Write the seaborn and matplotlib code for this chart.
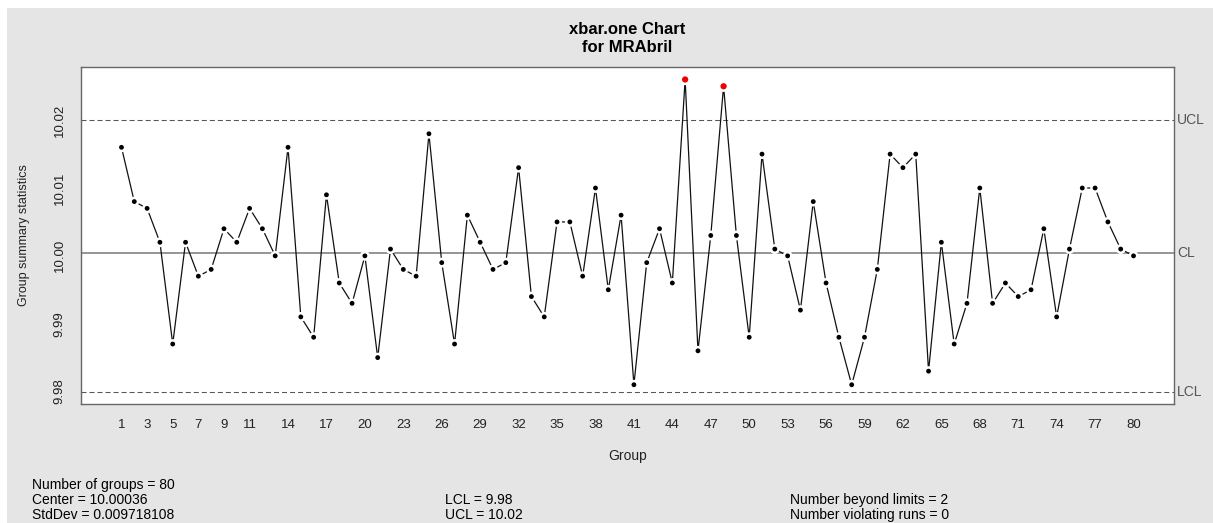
import matplotlib
matplotlib.use("Agg")
import numpy as np
import pandas as pd
import matplotlib.pyplot as plt
import seaborn as sns
from matplotlib.patches import Rectangle

# Individual measurements (one value per group)
groups = list(range(1, 81))
values = [
    10.016, 10.008, 10.007, 10.002, 9.987, 10.002, 9.997, 9.998, 10.004, 10.002,
    10.007, 10.004, 10.000, 10.016, 9.991, 9.988, 10.009, 9.996, 9.993, 10.000,
    9.985, 10.001, 9.998, 9.997, 10.018, 9.999, 9.987, 10.006, 10.002, 9.998,
    9.999, 10.013, 9.994, 9.991, 10.005, 10.005, 9.997, 10.010, 9.995, 10.006,
    9.981, 9.999, 10.004, 9.996, 10.026, 9.986, 10.003, 10.025, 10.003, 9.988,
    10.015, 10.001, 10.000, 9.992, 10.008, 9.996, 9.988, 9.981, 9.988, 9.998,
    10.015, 10.013, 10.015, 9.983, 10.002, 9.987, 9.993, 10.010, 9.993, 9.996,
    9.994, 9.995, 10.004, 9.991, 10.001, 10.010, 10.010, 10.005, 10.001, 10.000,
]

# Control chart statistics
center = 10.00036
std_dev = 0.009718108
lcl = 9.98
ucl = 10.02
n_beyond = 2
n_runs = 0

y_ticks = [9.98, 9.99, 10.00, 10.01, 10.02]
x_tick_labels = [1, 3, 5, 7, 9, 11] + list(range(14, 81, 3))

df = pd.DataFrame({"group": groups, "value": values})
df["status"] = np.where((df["value"] > ucl) | (df["value"] < lcl), "out", "in")

sns.set_theme(style="white")
plt.rcParams["font.family"] = ["Liberation Sans", "DejaVu Sans"]

W, H = 1213, 523
fig = plt.figure(figsize=(W / 100, H / 100), dpi=100)
fig.patch.set_facecolor("white")
fig.add_artist(Rectangle((7 / W, 0), 1 - 7 / W, 1 - 8 / H, transform=fig.transFigure,
                         facecolor="#e5e5e5", edgecolor="none", zorder=-1))

ax = fig.add_axes([81 / W, 1 - 404 / H, (1174 - 81) / W, (404 - 67) / H])
ax.set_facecolor("white")

# control limits and center line
ax.axhline(center, color="#8c8c8c", lw=1.3, zorder=1)
for lim in (ucl, lcl):
    ax.axhline(lim, color="#555555", lw=0.75, dashes=(4.8, 2.9), zorder=1)

sns.lineplot(data=df, x="group", y="value", color="#111111", lw=0.9,
             ax=ax, zorder=2, errorbar=None)
sns.scatterplot(data=df, x="group", y="value", hue="status", size="status",
                palette={"in": "black", "out": "#ee0000"},
                sizes={"in": 28, "out": 40}, edgecolor="white", linewidth=1.8,
                legend=False, ax=ax, zorder=3)

# axis ranges with 4% padding
n = len(groups)
ax.set_xlim(1 - 0.04 * (n - 1), n + 0.04 * (n - 1))
lo = min(min(values), lcl)
hi = max(max(values), ucl)
pad = 0.04 * (hi - lo)
ax.set_ylim(lo - pad, hi + pad)

ax.set_xticks(groups)
ax.set_xticklabels([str(g) if g in x_tick_labels else "" for g in groups])
ax.set_yticks(y_ticks)
ax.set_yticklabels([f"{t:.2f}" for t in y_ticks])

for s in ax.spines.values():
    s.set_color("#666666")
    s.set_linewidth(1.0)

ax.tick_params(axis="both", direction="out", length=6, width=0.8, color="#333333",
               labelcolor="#222222")
ax.tick_params(axis="x", labelsize=9.5, pad=5)
ax.tick_params(axis="y", labelsize=9.5, pad=5, labelrotation=90)
for lab in ax.get_yticklabels():
    lab.set_va("center")

ax.set_xlabel("Group", fontsize=10, color="#222222")
ax.xaxis.set_label_coords(0.5, (404 - 456) / (404 - 67))
ax.xaxis.label.set_va("center")
ax.set_ylabel("Group summary statistics", fontsize=9, color="#222222")
ax.yaxis.set_label_coords((24 - 81) / (1174 - 81), 0.5)
ax.yaxis.label.set_va("center")

# labels for the limit lines in the right margin
ytr = ax.get_yaxis_transform()
for lab, yv in (("UCL", ucl), ("CL", center), ("LCL", lcl)):
    ax.text(1.003, yv, lab, transform=ytr, ha="left", va="center",
            fontsize=10, color="#555555", clip_on=False)

# title
cx = ((81 + 1174) / 2) / W
fig.text(cx, 1 - 30 / H, "xbar.one Chart", ha="center", va="center",
         fontsize=12, fontweight="bold", color="black")
fig.text(cx, 1 - 47 / H, "for MRAbril", ha="center", va="center",
         fontsize=12, fontweight="bold", color="black")

# summary statistics below the chart
txt = dict(fontsize=10, color="black", va="center", ha="left")
fig.text(32 / W, 1 - 485 / H, f"Number of groups = {n}", **txt)
fig.text(32 / W, 1 - 500 / H, f"Center = {center}", **txt)
fig.text(32 / W, 1 - 515 / H, f"StdDev = {std_dev}", **txt)
fig.text(445 / W, 1 - 500 / H, f"LCL = {lcl}", **txt)
fig.text(445 / W, 1 - 515 / H, f"UCL = {ucl}", **txt)
fig.text(790 / W, 1 - 500 / H, f"Number beyond limits = {n_beyond}", **txt)
fig.text(790 / W, 1 - 515 / H, f"Number violating runs = {n_runs}", **txt)

fig.savefig("out.png", dpi=100)
